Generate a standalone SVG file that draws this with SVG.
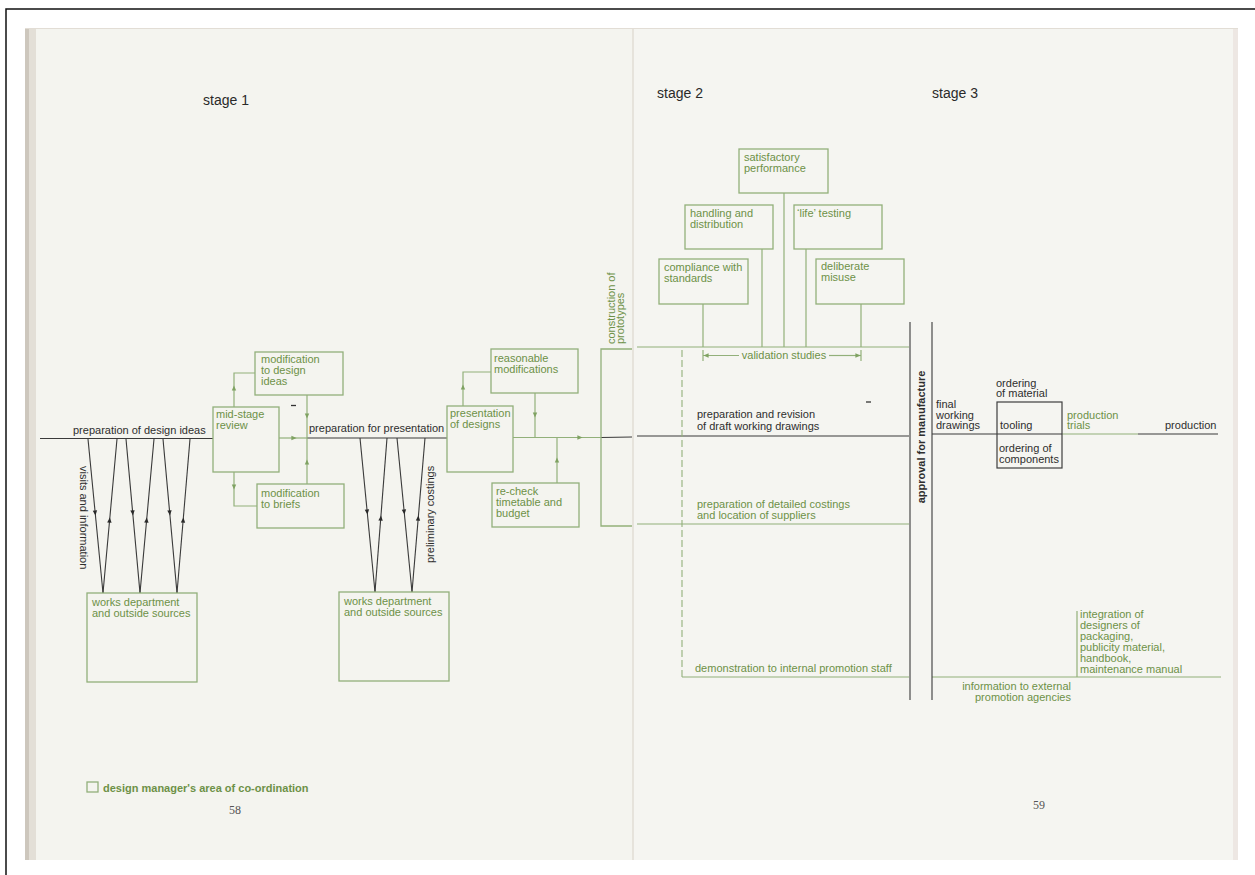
<svg xmlns="http://www.w3.org/2000/svg" width="1255" height="875" viewBox="0 0 1255 875">
<style>
.t{font-family:"Liberation Sans",Arial,sans-serif;font-size:11px}
.tk{fill:#2e2e2e}
.tg{fill:#6d9147}
.tb{font-weight:bold}
.st{font-family:"Liberation Sans",Arial,sans-serif;font-size:14px;fill:#2a2a2a}
.pn{font-family:"Liberation Serif","Times New Roman",serif;font-size:12px;fill:#555}
.box{fill:none;stroke:#92b07a;stroke-width:1.3}
.boxk{fill:none;stroke:#3e3e3e;stroke-width:1.2}
.g{fill:none;stroke:#92b07a;stroke-width:1.2}
.k{fill:none;stroke:#3a3a3a;stroke-width:1.1}
.dash{fill:none;stroke:#92b07a;stroke-width:1.1;stroke-dasharray:7 3}
.ag{fill:#7fa262}
.ak{fill:#2a2a2a}
</style>
<defs>
<path id="ah" d="M2.6,0 L-2.6,-2.2 L-2.6,2.2 Z"/>
</defs>
<rect x="0" y="0" width="1255" height="875" fill="#ffffff"/>
<path d="M6,875 V9 H1255" fill="none" stroke="#111" stroke-width="1.5"/>
<g id="page">
<rect x="25" y="28" width="608" height="832" fill="#f4f4ef"/>
<rect x="633" y="28" width="605" height="832" fill="#f5f5f1"/>
<rect x="25" y="28" width="4" height="832" fill="#cdc7bd"/>
<rect x="29" y="28" width="7" height="832" fill="#e3dfd7"/>
<line x1="633" y1="28" x2="633" y2="860" stroke="#e0dcd3" stroke-width="1.4"/>
<rect x="1233" y="28" width="5" height="832" fill="#ede7e3"/>
<line x1="25" y1="28.5" x2="1238" y2="28.5" stroke="#e2ddd5" stroke-width="1"/>
</g>
<g id="stages">
<text class="st" x="203" y="105">stage 1</text>
<text class="st" x="657" y="98">stage 2</text>
<text class="st" x="932" y="98">stage 3</text>
</g>
<g id="connectors">
<line class="k" x1="40" y1="438.5" x2="213" y2="438.5"/>
<line class="g" x1="279" y1="438" x2="307" y2="438"/>
<line class="k" x1="307" y1="438" x2="447" y2="438"/>
<line class="g" x1="513" y1="437.5" x2="601" y2="437.5"/>
<line class="k" x1="601" y1="437.5" x2="632" y2="437"/>
<line class="k" x1="637" y1="436" x2="909" y2="436"/>
<polyline class="g" points="234,407 234,373 255,373"/>
<polyline class="g" points="234,472 234,506 257,506"/>
<line class="g" x1="307" y1="395" x2="307" y2="484"/>
<polyline class="g" points="463,406 463,372 491,372"/>
<line class="g" x1="535" y1="393" x2="535" y2="438"/>
<line class="g" x1="557" y1="483" x2="557" y2="438"/>
<use href="#ah" class="ag" transform="translate(234,388) rotate(-90)"/>
<use href="#ah" class="ag" transform="translate(234,487) rotate(90)"/>
<use href="#ah" class="ag" transform="translate(307,416) rotate(90)"/>
<use href="#ah" class="ag" transform="translate(307,462) rotate(-90)"/>
<use href="#ah" class="ag" transform="translate(294,438)"/>
<use href="#ah" class="ag" transform="translate(463,387) rotate(-90)"/>
<use href="#ah" class="ag" transform="translate(535,415) rotate(90)"/>
<use href="#ah" class="ag" transform="translate(557,460) rotate(-90)"/>
<use href="#ah" class="ag" transform="translate(580,437.5)"/>
<line class="k" x1="88" y1="439" x2="103" y2="593"/>
<line class="k" x1="117" y1="439" x2="103" y2="593"/>
<line class="k" x1="126" y1="439" x2="140" y2="593"/>
<line class="k" x1="154" y1="439" x2="140" y2="593"/>
<line class="k" x1="163" y1="439" x2="177" y2="593"/>
<line class="k" x1="190" y1="439" x2="177" y2="593"/>
<use href="#ah" class="ak" transform="translate(95.2,513) rotate(84.4)"/>
<use href="#ah" class="ak" transform="translate(109.6,520) rotate(-84.8)"/>
<use href="#ah" class="ak" transform="translate(132.7,513) rotate(84.8)"/>
<use href="#ah" class="ak" transform="translate(146.6,520) rotate(-84.8)"/>
<use href="#ah" class="ak" transform="translate(169.7,513) rotate(84.8)"/>
<use href="#ah" class="ak" transform="translate(183.2,520) rotate(-85.2)"/>
<line class="k" x1="360" y1="438" x2="375" y2="592"/>
<line class="k" x1="387" y1="438" x2="375" y2="592"/>
<line class="k" x1="397" y1="438" x2="412" y2="592"/>
<line class="k" x1="425" y1="438" x2="412" y2="592"/>
<use href="#ah" class="ak" transform="translate(367.2,512) rotate(84.4)"/>
<use href="#ah" class="ak" transform="translate(380.8,518) rotate(-85.5)"/>
<use href="#ah" class="ak" transform="translate(404.2,512) rotate(84.4)"/>
<use href="#ah" class="ak" transform="translate(418.2,518) rotate(-85.2)"/>
<line class="g" x1="637" y1="347" x2="909" y2="347"/>
<line class="g" x1="637" y1="524" x2="909" y2="524"/>
<line class="g" x1="682" y1="677" x2="909" y2="677"/>
<line class="dash" x1="682" y1="350" x2="682" y2="677"/>
<line class="g" x1="703" y1="304" x2="703" y2="347"/>
<line class="g" x1="762" y1="249" x2="762" y2="347"/>
<line class="g" x1="784" y1="193" x2="784" y2="347"/>
<line class="g" x1="806" y1="249" x2="806" y2="347"/>
<line class="g" x1="861" y1="304" x2="861" y2="347"/>
<line class="g" x1="703" y1="350" x2="703" y2="361"/>
<line class="g" x1="861" y1="350" x2="861" y2="361"/>
<line class="g" x1="703" y1="355.5" x2="739" y2="355.5"/>
<line class="g" x1="829" y1="355.5" x2="861" y2="355.5"/>
<use href="#ah" class="ag" transform="translate(706,355.5) rotate(180)"/>
<use href="#ah" class="ag" transform="translate(858,355.5)"/>
<line class="k" x1="932" y1="434" x2="1062" y2="434"/>
<line class="g" x1="1062" y1="434" x2="1138" y2="434"/>
<line class="k" x1="1138" y1="434" x2="1218" y2="434"/>
<line class="g" x1="932" y1="677" x2="1221" y2="677"/>
<line class="g" x1="1077" y1="611" x2="1077" y2="677"/>
<line x1="291" y1="405.5" x2="296" y2="405.5" stroke="#333" stroke-width="1.3"/>
<line x1="866" y1="402" x2="871" y2="402" stroke="#333" stroke-width="1.3"/>
</g>
<g id="prep-design-ideas">
<text class="t tk" x="73" y="434">preparation of design ideas</text>
</g>
<g id="visits-info">
<text class="t tk" transform="translate(80,466) rotate(90)">visits and information</text>
</g>
<g id="mid-stage-review">
<rect class="box" x="213" y="407" width="66" height="65"/>
<text class="t tg" x="216" y="418">mid-stage</text>
<text class="t tg" x="216" y="429">review</text>
</g>
<g id="mod-design-ideas">
<rect class="box" x="255" y="352" width="88" height="43"/>
<text class="t tg" x="261" y="363">modification</text>
<text class="t tg" x="261" y="374">to design</text>
<text class="t tg" x="261" y="385">ideas</text>
</g>
<g id="mod-briefs">
<rect class="box" x="257" y="484" width="87" height="44"/>
<text class="t tg" x="261" y="497">modification</text>
<text class="t tg" x="261" y="508">to briefs</text>
</g>
<g id="prep-presentation">
<text class="t tk" x="309" y="432">preparation for presentation</text>
</g>
<g id="prelim-costings">
<text class="t tk" transform="translate(434,563) rotate(-90)">preliminary costings</text>
</g>
<g id="works-1">
<rect class="box" x="87" y="593" width="110" height="89"/>
<text class="t tg" x="92" y="606">works department</text>
<text class="t tg" x="92" y="617">and outside sources</text>
</g>
<g id="works-2">
<rect class="box" x="339" y="592" width="110" height="89"/>
<text class="t tg" x="344" y="605">works department</text>
<text class="t tg" x="344" y="616">and outside sources</text>
</g>
<g id="presentation-designs">
<rect class="box" x="447" y="406" width="66" height="66"/>
<text class="t tg" x="450" y="417">presentation</text>
<text class="t tg" x="450" y="428">of designs</text>
</g>
<g id="reasonable-mods">
<rect class="box" x="491" y="349" width="87" height="44"/>
<text class="t tg" x="494" y="362">reasonable</text>
<text class="t tg" x="494" y="373">modifications</text>
</g>
<g id="recheck">
<rect class="box" x="492" y="483" width="87" height="44"/>
<text class="t tg" x="496" y="495">re-check</text>
<text class="t tg" x="496" y="506">timetable and</text>
<text class="t tg" x="496" y="517">budget</text>
</g>
<g id="construction-prototypes">
<path class="box" d="M632,349 H601 V526 H632"/>
<text class="t tg" transform="translate(615,344) rotate(-90)">construction of</text>
<text class="t tg" transform="translate(624,344) rotate(-90)">prototypes</text>
</g>
<g id="satisfactory-performance">
<rect class="box" x="739" y="149" width="89" height="44"/>
<text class="t tg" x="744" y="161">satisfactory</text>
<text class="t tg" x="744" y="172">performance</text>
</g>
<g id="handling-distribution">
<rect class="box" x="685" y="205" width="88" height="44"/>
<text class="t tg" x="690" y="217">handling and</text>
<text class="t tg" x="690" y="228">distribution</text>
</g>
<g id="life-testing">
<rect class="box" x="794" y="205" width="88" height="44"/>
<text class="t tg" x="797" y="217">‘life’ testing</text>
</g>
<g id="compliance-standards">
<rect class="box" x="659" y="259" width="89" height="45"/>
<text class="t tg" x="664" y="271">compliance with</text>
<text class="t tg" x="664" y="282">standards</text>
</g>
<g id="deliberate-misuse">
<rect class="box" x="816" y="259" width="88" height="45"/>
<text class="t tg" x="821" y="270">deliberate</text>
<text class="t tg" x="821" y="281">misuse</text>
</g>
<g id="validation-studies">
<text class="t tg" x="784" y="359" text-anchor="middle">validation studies</text>
</g>
<g id="draft-drawings">
<text class="t tk" x="697" y="418">preparation and revision</text>
<text class="t tk" x="697" y="430">of draft working drawings</text>
</g>
<g id="detailed-costings">
<text class="t tg" x="697" y="508">preparation of detailed costings</text>
<text class="t tg" x="697" y="519">and location of suppliers</text>
</g>
<g id="demonstration">
<text class="t tg" x="695" y="672">demonstration to internal promotion staff</text>
</g>
<g id="approval">
<line class="k" x1="910" y1="322" x2="910" y2="700"/>
<line class="k" x1="932" y1="322" x2="932" y2="700"/>
<text class="t tk tb" text-anchor="middle" transform="translate(925,437) rotate(-90)">approval for manufacture</text>
</g>
<g id="final-drawings">
<text class="t tk" x="936" y="408">final</text>
<text class="t tk" x="936" y="418.5">working</text>
<text class="t tk" x="936" y="429">drawings</text>
</g>
<g id="tooling">
<rect class="boxk" x="997" y="402" width="65" height="66"/>
<text class="t tk" x="996" y="387">ordering</text>
<text class="t tk" x="996" y="397">of material</text>
<text class="t tk" x="1000" y="429">tooling</text>
<text class="t tk" x="999" y="452">ordering of</text>
<text class="t tk" x="999" y="463">components</text>
</g>
<g id="production-trials">
<text class="t tg" x="1067" y="419">production</text>
<text class="t tg" x="1067" y="429">trials</text>
</g>
<g id="production">
<text class="t tk" x="1165" y="429">production</text>
</g>
<g id="integration">
<text class="t tg" x="1080" y="618">integration of</text>
<text class="t tg" x="1080" y="629">designers of</text>
<text class="t tg" x="1080" y="640">packaging,</text>
<text class="t tg" x="1080" y="651">publicity material,</text>
<text class="t tg" x="1080" y="662">handbook,</text>
<text class="t tg" x="1080" y="673">maintenance manual</text>
</g>
<g id="external-promotion">
<text class="t tg" x="1071" y="690" text-anchor="end">information to external</text>
<text class="t tg" x="1071" y="701" text-anchor="end">promotion agencies</text>
</g>
<g id="legend">
<rect class="box" x="87" y="782" width="11" height="10"/>
<text class="t tg tb" x="103" y="792">design manager's area of co-ordination</text>
</g>
<g id="page-numbers">
<text class="pn" x="229" y="814">58</text>
<text class="pn" x="1033" y="809">59</text>
</g>
</svg>
